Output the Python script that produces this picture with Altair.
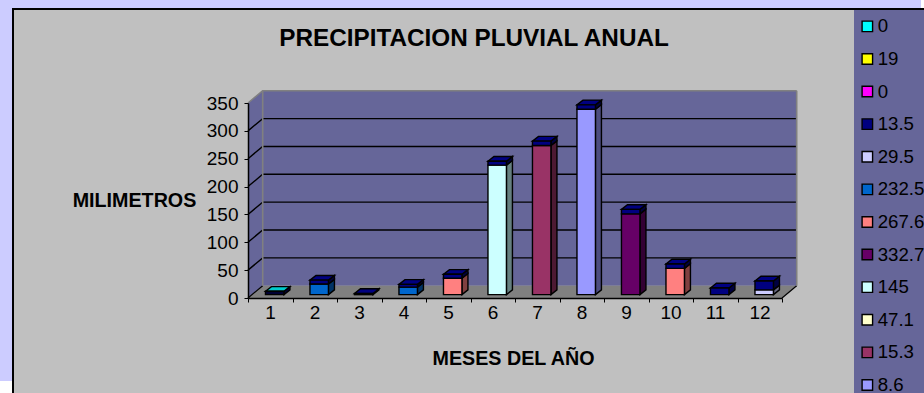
import altair as alt
import pandas as pd

# Chart values
months = list(range(1, 13))
base_values = [0, 19, 0, 13.5, 29.5, 232.5, 267.6, 332.7, 145, 47.1, 0, 8.6]
cap_values = [6, 7, 2, 5, 7, 7, 8, 8, 8, 8, 12, 16]
base_colors = ["#000033", "#0066CC", "#000080", "#0066CC", "#FF8080", "#CCFFFF",
               "#993366", "#9999FF", "#660066", "#FF8080", "#000080", "#CCCCFF"]
base_sides = ["#000020", "#003366", "#000040", "#003366", "#804040", "#668080",
              "#4D1A33", "#4D4D80", "#330033", "#804040", "#000040", "#666680"]
top_colors = ["#00CCCC"] + ["#000080"] * 11
cap_colors = ["#000033"] + ["#000080"] * 11
cap_side = "#000040"

legend_labels = ["0", "19", "0", "13.5", "29.5", "232.5", "267.6", "332.7", "145", "47.1", "15.3", "8.6"]
legend_colors = ["#00FFFF", "#FFFF00", "#FF00FF", "#000080", "#CCCCFF", "#0066CC",
                 "#FF8080", "#660066", "#CCFFFF", "#FFFFCC", "#993366", "#9999FF"]
y_ticks = [0, 50, 100, 150, 200, 250, 300, 350]
x_edges = [m - 0.5 for m in months] + [12.5]

# Canvas placement of the plot area
ORIGIN_X, ORIGIN_Y, PLOT_W, PLOT_H = 248, 103, 534, 195

# Depth of the 3D box and of the columns, in axis units
WALL_DX, WALL_DY = 0.33, 22.0
BAR_OFF_X, BAR_OFF_Y = 0.10, 6.0
BAR_W, BAR_DX, BAR_DY = 0.415, 0.135, 8.5
X0, X1 = 0.5, 12.5
Y_TOP = 350

x_scale = alt.Scale(domain=[X0, X1], nice=False, zero=False)
y_scale = alt.Scale(domain=[0, Y_TOP], nice=False, zero=False)

x_axis = alt.Axis(
    values=x_edges, labelExpr="datum.value < 12 ? format(datum.value + 0.5, 'd') : ''",
    labelOffset=22, labelFontSize=19, labelFont="Liberation Sans", labelColor="black",
    labelPadding=1, tickSize=4, tickColor="black", domainColor="black", domainWidth=1.5, grid=False,
    labelOverlap=False, labelFlush=False,
    title="MESES DEL AÑO", titleFont="Liberation Sans", titleFontSize=19.7, titleFontWeight="bold",
    titleColor="black", titleX=265, titleY=60, titleBaseline="middle", zindex=1,
)
y_axis = alt.Axis(
    values=y_ticks, labelFontSize=19, labelFont="Liberation Sans", labelColor="black",
    labelPadding=6, tickSize=4, tickColor="black", domainColor="black", domainWidth=1.5, grid=False,
    labelOverlap=False, labelFlush=False,
    title="MILIMETROS", titleAngle=0, titleFont="Liberation Sans", titleFontSize=19.7,
    titleFontWeight="bold", titleColor="black", titleX=-114, titleY=97, titleAlign="center",
    titleBaseline="middle", zindex=1,
)


def X(field="x", axis=None):
    return alt.X(f"{field}:Q", scale=x_scale, axis=axis, title=None if axis is None else alt.Undefined)


def Y(field="y", axis=None):
    return alt.Y(f"{field}:Q", scale=y_scale, axis=axis, title=None if axis is None else alt.Undefined, stack=None)


def panel(x0, y0, x1, y1, color):
    """Flat rectangle placed on the canvas, for the page and chart panels."""
    return alt.Chart(pd.DataFrame({"k": [0]})).mark_rect(color=color).encode(
        x=alt.value(x0 - ORIGIN_X), x2=alt.value(x1 - ORIGIN_X),
        y=alt.value(y0 - ORIGIN_Y), y2=alt.value(y1 - ORIGIN_Y),
    )


def polygons(rows, **mark):
    """Filled 3D faces: rows carry face id, x, lower y, upper y and colour."""
    df = pd.DataFrame(rows, columns=["face", "x", "y", "y2", "col"])
    return alt.Chart(df).mark_area(orient="vertical", **mark).encode(
        x=X(), y=Y(), y2="y2:Q", detail="face:N",
        color=alt.Color("col:N", scale=None),
    )


def lines(rows, color, width):
    df = pd.DataFrame(rows, columns=["id", "x", "y"])
    return alt.Chart(df).mark_line(color=color, strokeWidth=width).encode(
        x=X(), y=Y(), detail="id:N", order="ord:Q"
    ).transform_calculate(ord="datum.x")


# Box walls and floor
wall = "#666699"
floor = "#808080"
walls = polygons([
    ("left", X0, 0, Y_TOP, wall), ("left", X0 + WALL_DX, WALL_DY, Y_TOP + WALL_DY, wall),
    ("back", X0 + WALL_DX, WALL_DY, Y_TOP + WALL_DY, wall), ("back", X1 + WALL_DX, WALL_DY, Y_TOP + WALL_DY, wall),
])
floor_face = polygons([
    ("floor", X0, 0, 0, floor), ("floor", X0 + WALL_DX, 0, WALL_DY, floor),
    ("floor", X1, 0, WALL_DY, floor), ("floor", X1 + WALL_DX, WALL_DY, WALL_DY, floor),
])

grid_rows = []
for v in y_ticks[1:-1]:
    grid_rows += [(v, X0, v), (v, X0 + WALL_DX, v + WALL_DY), (v, X1 + WALL_DX, v + WALL_DY)]
grid = lines(grid_rows, "black", 1.4)
floor_edges = lines([
    ("a", X0, 0), ("a", X0 + WALL_DX, WALL_DY),
    ("b", X1, 0), ("b", X1 + WALL_DX, WALL_DY),
], "black", 1.2)
rim_rows = [("top", X0, Y_TOP), ("top", X0 + WALL_DX, Y_TOP + WALL_DY), ("top", X1 + WALL_DX, Y_TOP + WALL_DY),
            ("right", X1 + WALL_DX, Y_TOP + WALL_DY), ("right", X1 + WALL_DX + 0.001, WALL_DY),
            ("inner", X0 + WALL_DX, Y_TOP + WALL_DY), ("inner", X0 + WALL_DX + 0.001, WALL_DY)]
rim = lines(rim_rows, "#808080", 1.6)

# Columns: a front, a side and a top for each stacked segment
front_rows, side_rows, top_rows = [], [], []
for m, b, c, col, sd, tc, cc in zip(months, base_values, cap_values, base_colors, base_sides, top_colors, cap_colors):
    left = m + BAR_OFF_X - BAR_W / 2
    right = left + BAR_W
    lo = BAR_OFF_Y
    segments = [(lo, lo + b, col, sd), (lo + b, lo + b + c, cc, cap_side)]
    for i, (y0, y1, fc, sc) in enumerate(segments):
        if y1 <= y0:
            continue
        front_rows.append((left, right, y0, y1, fc))
        fid = f"{m}-{i}"
        side_rows += [(fid, right, y0, y1, sc), (fid, right + BAR_DX, y0 + BAR_DY, y1 + BAR_DY, sc)]
    t = lo + b + c
    fid = f"{m}-t"
    top_rows += [(fid, left, t, t, tc), (fid, left + BAR_DX, t, t + BAR_DY, tc),
                 (fid, right, t, t + BAR_DY, tc), (fid, right + BAR_DX, t + BAR_DY, t + BAR_DY, tc)]

stroke = dict(stroke="black", strokeWidth=1.4)
sides = polygons(side_rows, **stroke)
tops = polygons(top_rows, **stroke)
fronts = alt.Chart(pd.DataFrame(front_rows, columns=["x", "x2", "y", "y2", "col"])).mark_rect(**stroke).encode(
    x=X(), x2="x2:Q", y=Y(), y2="y2:Q", color=alt.Color("col:N", scale=None),
)

# Axes, carried by a layer of their own
axes = alt.Chart(pd.DataFrame({"x": [X0], "y": [0]})).mark_point(size=0, opacity=0).encode(
    x=X(axis=x_axis), y=Y(axis=y_axis),
)

# Series legend in its dark panel
key_df = pd.DataFrame({"s": list(range(12)), "x": [X0] * 12, "y": [0] * 12})
legend_expr = "[" + ",".join(f"'{t}'" for t in legend_labels) + "][datum.value]"
keys = alt.Chart(key_df).mark_square(size=0).encode(
    x=X(), y=Y(),
    fill=alt.Fill("s:O", scale=alt.Scale(domain=list(range(12)), range=legend_colors), legend=alt.Legend(
        title=None, orient="none", legendX=861 - ORIGIN_X - 3, legendY=17 - ORIGIN_Y, columns=1,
        symbolType="square", symbolSize=110, symbolStrokeColor="black", symbolStrokeWidth=1.4,
        symbolOpacity=1, labelExpr=legend_expr, labelFont="Liberation Sans", labelFontSize=18.67,
        labelColor="black", labelOffset=1, rowPadding=12.6, padding=0, labelLimit=200,
    )),
)

chart = alt.layer(
    panel(12, 8, 924, 393, "#000000"),
    panel(14, 10, 854, 393, "#C0C0C0"),
    panel(854, 10, 924, 393, "#666699"),
    panel(0, 381, 12, 393, "#FFFFFF"),
    panel(921, 0, 924, 8, "#FFFFFF"),
    walls, floor_face, grid, floor_edges, rim, sides, tops, fronts, axes, keys,
).resolve_axis(x="independent", y="independent").properties(
    width=PLOT_W, height=PLOT_H,
    background="#CCCCFF",
    padding={"left": ORIGIN_X, "top": ORIGIN_Y, "right": 924 - ORIGIN_X - PLOT_W, "bottom": 393 - ORIGIN_Y - PLOT_H},
    autosize=alt.AutoSizeParams(type="none"),
    title=alt.TitleParams(
        "PRECIPITACION PLUVIAL ANUAL", font="Liberation Sans", fontSize=24.3, fontWeight="bold",
        color="black", anchor="middle", dx=-41, offset=55, dy=106,
    ),
).configure_view(stroke=None)

chart.save("out.html", embed_options={"renderer": "svg", "actions": False})
